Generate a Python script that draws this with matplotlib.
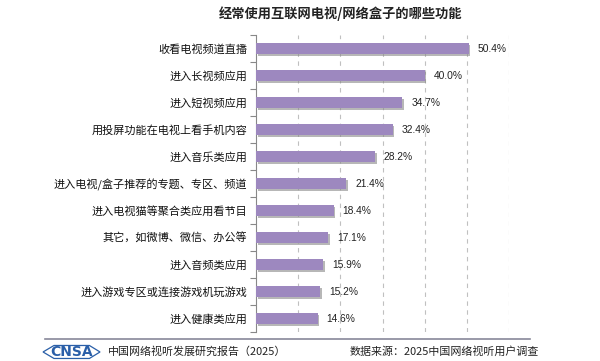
import matplotlib.pyplot as plt
import matplotlib.patheffects as pe
from matplotlib.patches import Polygon
import numpy as np

plt.rcParams['font.family'] = ['Noto Sans CJK SC', 'DejaVu Sans']

categories = ["收看电视频道直播", "进入长视频应用", "进入短视频应用",
              "用投屏功能在电视上看手机内容", "进入音乐类应用",
              "进入电视/盒子推荐的专题、专区、频道", "进入电视猫等聚合类应用看节目",
              "其它，如微博、微信、办公等", "进入音频类应用",
              "进入游戏专区或连接游戏机玩游戏", "进入健康类应用"]
values = [50.4, 40.0, 34.7, 32.4, 28.2, 21.4, 18.4, 17.1, 15.9, 15.2, 14.6]
title = "经常使用互联网电视/网络盒子的哪些功能"

fig = plt.figure(figsize=(6, 3.61), dpi=100)
ax = fig.add_axes([0.4267, 0.0803, 0.4217, 0.8227])

y = np.arange(len(categories))
bars = ax.barh(y, values, height=0.38, color="#9d88bf", zorder=3)
for b in bars:
    b.set_path_effects([pe.withSimplePatchShadow(offset=(1.2, -1.5),
                                                 shadow_rgbFace="#888888", alpha=0.6)])
for yi, v in zip(y, values):
    ax.text(v + 2.1, yi, f"{v:.1f}%", va="center", ha="left", fontsize=7.4,
            family="Liberation Sans", color="#222222")

ax.set_xlim(0, 60)
ax.set_ylim(len(categories) - 0.5, -0.5)
ax.set_xticks([10, 20, 30, 40, 50, 60])
ax.xaxis.grid(True, linestyle=(0, (4, 4)), color="#c0c0c0", linewidth=0.8, zorder=0)
ax.tick_params(axis="x", length=0, labelbottom=False)

ax.set_yticks(y)
ax.set_yticklabels(categories, fontsize=8, color="#111111")
ax.set_yticks(np.arange(len(categories) + 1) - 0.5, minor=True)
ax.tick_params(axis="y", which="major", length=0, pad=6.5)
ax.tick_params(axis="y", which="minor", length=4, color="#888888", width=0.8)

for s in ["top", "right", "bottom"]:
    ax.spines[s].set_visible(False)
ax.spines["left"].set_color("#888888")
ax.spines["left"].set_linewidth(0.8)

fig.text(0.567, 0.961, title, ha="center", va="center", fontsize=9.5,
         fontweight="bold", color="#222222")

# footer
fig.add_artist(plt.Line2D([0.075, 0.883], [0.061, 0.061], color="#888899",
                          linewidth=1.2))
logo = Polygon([[0.0717, 0.025], [0.09, 0.0430], [0.149, 0.0430], [0.1667, 0.025],
                [0.149, 0.007], [0.09, 0.007]], closed=True, fill=False,
               edgecolor="#2a5fa8", linewidth=0.9, transform=fig.transFigure)
fig.add_artist(logo)
fig.text(0.1195, 0.024, "CNSA", ha="center", va="center", fontsize=10,
         fontweight="heavy", color="#2a5fa8", family="DejaVu Sans")
fig.text(0.18, 0.025, "中国网络视听发展研究报告（2025）", ha="left", va="center",
         fontsize=7.9, color="#222222")
fig.text(0.582, 0.025, "数据来源：2025中国网络视听用户调查", ha="left", va="center",
         fontsize=7.9, color="#222222")

fig.savefig("out.png", dpi=100)
